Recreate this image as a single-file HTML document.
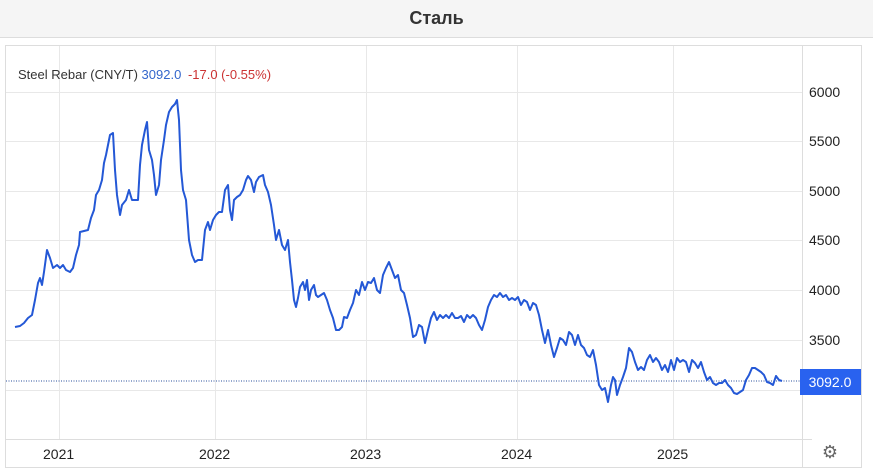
<!DOCTYPE html>
<html><head><meta charset="utf-8"><style>
body{margin:0;width:873px;height:474px;background:#fff;font-family:"Liberation Sans",Arial,sans-serif;overflow:hidden;position:relative}
.hd{position:absolute;left:0;top:0;width:873px;height:37px;background:#f5f5f5;border-bottom:1px solid #ddd;text-align:center;line-height:36px;font-weight:bold;font-size:18px;color:#333}
</style></head><body>
<div class="hd">Сталь</div>
<svg width="873" height="474" style="position:absolute;left:0;top:0" font-family="Liberation Sans, Arial, sans-serif">
<rect x="5.5" y="45.5" width="856" height="422" fill="none" stroke="#ddd"/>
<g stroke="#e8e8e8" stroke-width="1">
<line x1="59.5" y1="46" x2="59.5" y2="440"/><line x1="215.5" y1="46" x2="215.5" y2="440"/><line x1="366.5" y1="46" x2="366.5" y2="440"/><line x1="517.5" y1="46" x2="517.5" y2="440"/><line x1="673.5" y1="46" x2="673.5" y2="440"/>
<line x1="6" y1="92.5" x2="802" y2="92.5"/><line x1="6" y1="141.5" x2="802" y2="141.5"/><line x1="6" y1="191.5" x2="802" y2="191.5"/><line x1="6" y1="240.5" x2="802" y2="240.5"/><line x1="6" y1="290.5" x2="802" y2="290.5"/><line x1="6" y1="340.5" x2="802" y2="340.5"/><line x1="6" y1="390.5" x2="802" y2="390.5"/>
</g>
<line x1="6" y1="439.5" x2="812" y2="439.5" stroke="#ddd"/>
<line x1="802.5" y1="46" x2="802.5" y2="467" stroke="#ddd"/>
<text x="18" y="79" font-size="13" fill="#333">Steel Rebar (CNY/T) <tspan fill="#3366cc">3092.0</tspan> <tspan fill="#cc3333" dx="3">-17.0 (-0.55%)</tspan></text>
<g font-size="14" fill="#222">
<text x="809" y="97">6000</text><text x="809" y="146">5500</text><text x="809" y="196">5000</text><text x="809" y="245">4500</text><text x="809" y="295">4000</text><text x="809" y="345">3500</text>
<text x="43" y="459">2021</text><text x="199" y="459">2022</text><text x="350" y="459">2023</text><text x="501" y="459">2024</text><text x="657" y="459">2025</text>
</g>
<line x1="6" y1="381" x2="802" y2="381" stroke="#2a4f9c" stroke-width="1" stroke-dasharray="1,1.5"/>
<rect x="800" y="369" width="61" height="26" fill="#2962ef"/>
<text x="830" y="387" font-size="14" fill="#fff" text-anchor="middle">3092.0</text>
<text x="830" y="458" font-size="18" fill="#666" text-anchor="middle">⚙</text>
<polyline fill="none" stroke="#2458d6" stroke-width="2" stroke-linejoin="round" points="15,327 20,326 24,323 28,318 32,315 35,300 38,283 40,278 42,285 44,272 47,250 50,258 53,268 57,265 60,268 63,265 66,270 70,272 73,268 76,255 79,245 80,232 84,231 88,230 91,218 94,210 96,195 99,190 102,180 104,163 106,155 108,145 110,135 113,133 115,170 117,195 120,215 122,205 126,200 129,190 132,200 135,200 138,200 140,165 142,145 145,130 147,122 149,150 152,160 154,175 156,195 159,185 161,160 164,140 166,125 169,112 172,107 175,104 177,100 179,120 181,170 183,190 186,200 189,240 192,255 195,262 198,260 202,260 205,230 208,222 210,230 213,220 216,215 219,212 222,212 225,190 228,185 230,210 232,220 234,200 237,197 240,195 243,190 246,180 248,176 251,180 254,192 256,182 259,177 263,175 265,185 268,192 271,205 274,225 276,240 279,230 282,245 285,250 288,240 290,262 292,280 294,300 296,307 298,298 300,287 303,282 305,290 307,280 309,300 311,290 314,285 316,295 318,297 321,295 324,293 327,300 330,310 333,318 336,330 339,330 342,327 344,317 347,318 350,310 353,303 356,290 359,295 362,282 365,290 368,282 371,283 374,278 377,290 380,293 383,275 386,268 389,262 392,270 395,278 398,275 401,290 404,293 407,305 410,318 413,337 416,335 419,325 422,327 425,343 428,330 431,318 434,312 437,320 440,315 443,318 446,315 449,318 452,313 455,318 458,318 461,316 464,322 467,315 470,318 473,315 476,318 479,325 482,330 485,320 488,307 491,300 494,295 497,297 500,293 503,297 506,295 509,300 512,298 515,300 518,297 521,305 524,300 527,302 530,310 533,303 536,305 539,315 542,330 545,343 548,330 551,345 554,357 557,348 560,338 563,340 566,345 569,332 572,335 575,345 578,335 581,345 584,348 587,355 590,357 593,350 596,365 599,385 602,390 605,388 608,402 611,385 613,377 615,380 617,395 620,385 623,377 626,368 629,348 632,352 635,362 638,370 641,367 644,370 647,360 650,355 653,362 656,358 659,362 662,370 665,365 668,372 671,360 674,370 677,358 680,362 683,360 686,362 689,372 692,360 695,363 698,368 701,362 704,372 707,380 710,377 713,383 716,385 719,383 722,383 725,380 728,385 731,388 734,393 737,394 740,392 743,390 746,380 749,375 752,368 755,368 758,370 761,372 764,375 767,382 770,383 773,385 776,376 779,380 782,381"/>
</svg>
</body></html>
